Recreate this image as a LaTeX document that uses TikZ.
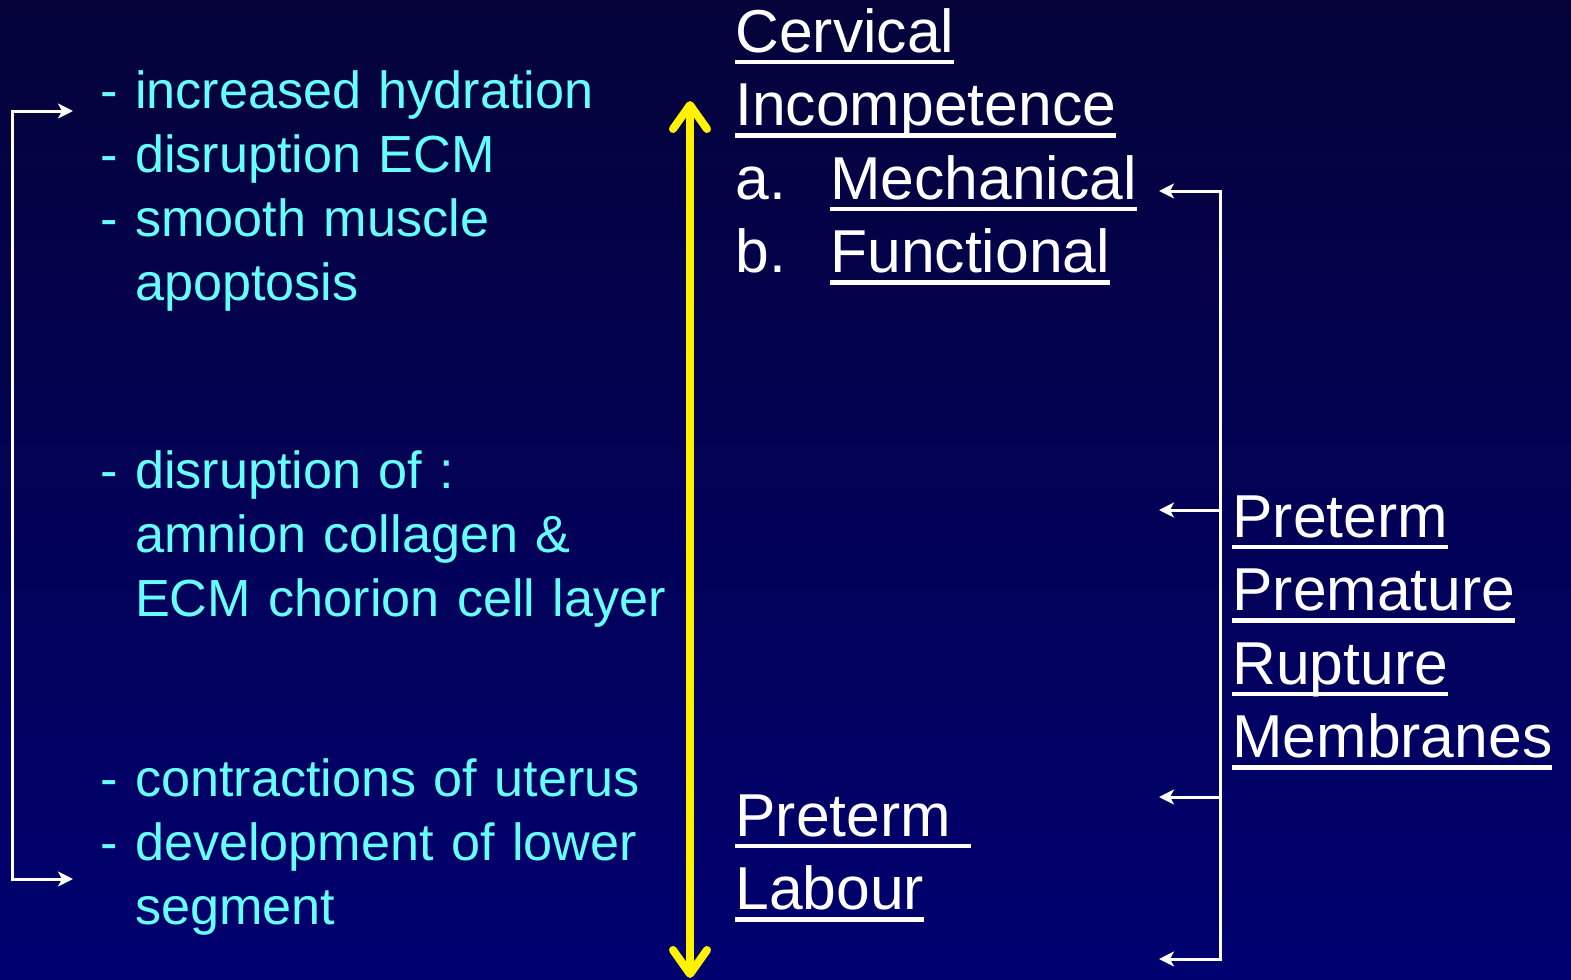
\documentclass[tikz,border=0pt]{standalone}
\usepackage{fontspec}
\setmainfont{Liberation Sans}
\usepackage{xcolor}
\usepackage{tikz}
\usetikzlibrary{arrows.meta,positioning}
\definecolor{slidetop}{RGB}{5,3,58}
\definecolor{slidebot}{RGB}{0,0,112}
\definecolor{aqua}{RGB}{102,255,255}
\newcommand\uword[1]{\leavevmode\setbox0\hbox{#1}\rlap{\rule[-6pt]{\wd0}{2.2pt}}\box0}

\begin{document}
\begin{tikzpicture}[
  x=0.5pt,y=-0.5pt,
  side/.style={anchor=base west, inner sep=0pt, text width=300pt, align=left, text=aqua, font=\fontsize{26.1}{32.1}\selectfont},
  head/.style={anchor=base west, inner sep=0pt, text width=230pt, align=left, text=white, font=\fontsize{30.3}{36.8}\selectfont},
  wire/.style={draw=white, line width=1.5pt},
  tip/.style={wire, -{Stealth[length=7.5pt,width=7.5pt,inset=2pt]}},
  yarrow/.style={draw=yellow, line width=4pt, {Straight Barb[length=12pt,width=17pt,round]}-{Straight Barb[length=12pt,width=17pt,round]}}
]
\fill[top color=slidetop, bottom color=slidebot] (0,0) rectangle (1571,980);
\useasboundingbox (0,0) rectangle (1571,980);
\node[side] (hydra) at (100,108) {- increased hydration\\- disruption ECM\\- smooth muscle\\\hphantom{- }apoptosis};
\node[side] (amnion) at (100,488) {- disruption of :\\\hphantom{- }amnion collagen \&\\\hphantom{- }ECM chorion cell layer};
\node[side] (uterus) at (100,796) {- contractions of uterus\\- development of lower\\\hphantom{- }segment};
\node[head] (cervix) at (735,52) {\uword{Cervical}\\\uword{Incompetence}\\\makebox[47.5pt][l]{a.}\uword{Mechanical}\\\makebox[47.5pt][l]{b.}\uword{Functional}};
\node[head] (labour) at (735,836) {\uword{Preterm\ }\\\uword{Labour}};
\node[head] (pprom) at (1232,537) {\uword{Preterm}\\\uword{Premature}\\\uword{Rupture}\\\uword{Membranes}};
\coordinate (up) at (690,101);
\coordinate (down) at (690,978);
\draw[yarrow] (down) -- (up);
\coordinate (lin) at (73,111);
\coordinate (ltop) at (12,111);
\coordinate (lbot) at (12,879);
\coordinate (lout) at (73,879);
\draw[wire, {Stealth[length=7.5pt,width=7.5pt,inset=2pt]}-{Stealth[length=7.5pt,width=7.5pt,inset=2pt]}] (lin) -- (ltop) -- (lbot) -- (lout);
\foreach \i/\y in {1/191,2/510,3/797,4/959}{
  \coordinate (r\i) at (1220,\y);
  \coordinate (t\i) at (1159,\y);
  \draw[tip] (r\i) -- (t\i);
}
\draw[wire, line cap=rect] (r1) -- (r4);
\end{tikzpicture}
\end{document}
